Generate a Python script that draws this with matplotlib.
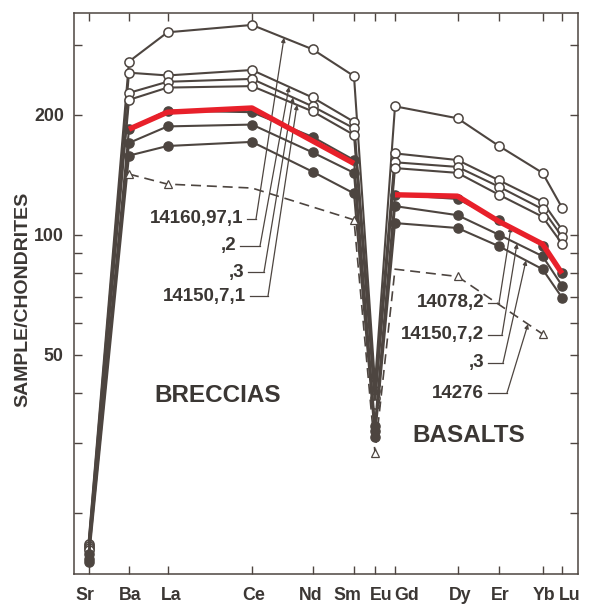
import numpy as np
import matplotlib
matplotlib.use("Agg")
import matplotlib.pyplot as plt
from matplotlib.transforms import ScaledTranslation

# ---------------- data ----------------
elements = ["Sr", "Ba", "La", "Ce", "Nd", "Sm", "Eu", "Gd", "Dy", "Er", "Yb", "Lu"]
element_x = [0, 40.5, 79, 163.5, 224, 265.5, 286.5, 306.5, 369, 410.5, 454, 473.5]

# Breccias (open circles)
brec_14160_97_1 = [16.8, 272, 322, 336, 292, 250, 42.3, 210, 196, 167, 143, 117]
brec_14160_97_2 = [16.6, 255, 251, 259, 221, 192, 40.6, 160, 154, 137, 121, 103]
brec_14160_97_3 = [16.4, 227, 242, 246, 210, 185, 39.0, 152, 148, 132, 116, 99]
brec_14150_7_1 = [16.2, 218, 234, 236, 204, 178, 37.7, 147, 143, 126, 111, 95]

# Basalts (filled circles)
bas_14078_2 = [15.8, 184, 205, 203, 176, 154, 33.2, 126, 123, 109, 94, 80]
bas_14150_7_2 = [15.4, 170, 187, 189, 161, 143, 32.2, 118, 112, 100, 88.4, 74.6]
bas_14150_7_3 = [15.1, 158, 167, 171, 144, 127, 31.1, 107, 104, 93.6, 82, 69.6]

# 14276 (open triangles, dashed)
tri_elements = ["Ba", "La", "Ce", "Sm", "Eu", "Gd", "Dy", "Yb"]
tri_14276 = [142, 134, 131, 109, 28.4, 82, 78.6, 56.4]
tri_marked = [True, True, False, True, True, False, True, True]

# red highlight overlay
red_left_el = ["Ba", "La", "Ce", "Sm"]
red_left_val = [184, 203, 208, 151]
red_right_el = ["Gd", "Dy", "Er", "Yb", "Lu"]
red_right_val = [126, 125, 108, 94.8, 80]

ytick_vals = [20, 30, 40, 50, 60, 70, 80, 90, 100, 200, 300]
ytick_labels = ["", "", "", "50", "", "", "", "", "100", "200", ""]

# ---------------- style ----------------
INK = "#4d4540"
TXT = "#3b3734"
RED = "#e8202a"
FONT = "Liberation Sans"
plt.rcParams["font.family"] = [FONT, "DejaVu Sans"]

W, H = 597, 609
fig = plt.figure(figsize=(W / 100, H / 100), dpi=100)
fig.patch.set_facecolor("white")
L, R, T, B = 73.5, 577.5, 13, 574
ax = fig.add_axes([L / W, 1 - B / H, (R - L) / W, (B - T) / H])
ax.set_yscale("log")
ax.set_xlim(-15, 489)
ax.set_ylim(14.1, 360)

xpos = dict(zip(elements, element_x))
X = np.array(element_x)

open_series = [brec_14160_97_1, brec_14160_97_2, brec_14160_97_3, brec_14150_7_1]
filled_series = [bas_14078_2, bas_14150_7_2, bas_14150_7_3]

for s in open_series:
    ax.plot(X, s, color=INK, lw=1.5, marker="o", ms=6.6, mfc="white",
            mec=INK, mew=1.1, zorder=3)
for s in filled_series:
    ax.plot(X, s, color=INK, lw=1.5, marker="o", ms=6.6, mfc=INK,
            mec=INK, mew=1.0, zorder=3)

tx = [xpos[e] for e in tri_elements]
mk = [i for i, m in enumerate(tri_marked) if m]
ax.plot(tx, tri_14276, color=INK, lw=1.2, dashes=(6, 3.5), marker="^",
        markevery=mk, ms=5.8, mfc="white", mec=INK, mew=0.9, zorder=3)

ax.plot([xpos[e] for e in red_left_el], red_left_val, color=RED, lw=3.9,
        solid_capstyle="butt", zorder=5)
ax.plot([xpos[e] for e in red_right_el], red_right_val, color=RED, lw=3.9,
        solid_capstyle="butt", zorder=5)

# ---------------- axes styling ----------------
for sp in ax.spines.values():
    sp.set_color(INK)
    sp.set_linewidth(1.1)
ax.set_xticks(element_x)
ax.set_xticklabels(elements)
ax.set_yticks(ytick_vals)
ax.set_yticklabels(ytick_labels)
ax.minorticks_off()
ax.tick_params(axis="both", which="both", direction="in", length=6, width=1.0,
               color=INK, top=True, right=True, labelcolor=TXT)
ax.tick_params(axis="x", pad=9)
ax.tick_params(axis="y", pad=7)
for lab in ax.get_xticklabels() + ax.get_yticklabels():
    lab.set_fontweight("bold")
    lab.set_fontsize(12.8)
label_shift = [-3.5, 1, 3.5, 2, -1.5, -7, 6, 12, 2.5, 1, 1.5, 8]
for lab, dx in zip(ax.get_xticklabels(), label_shift):
    lab.set_transform(lab.get_transform() + ScaledTranslation(dx / 100, 0, fig.dpi_scale_trans))

fig.text(23 / W, 1 - 299 / H, "SAMPLE/CHONDRITES", rotation=90, ha="center",
         va="center", fontsize=14, fontweight="bold", color=TXT)

fig.text(218 / W, 1 - 396 / H, "BRECCIAS", ha="center", va="center",
         fontsize=17.5, fontweight="bold", color=TXT)
fig.text(469 / W, 1 - 435 / H, "BASALTS", ha="center", va="center",
         fontsize=17.5, fontweight="bold", color=TXT)

# ---------------- labels with leader lines ----------------
inv = ax.transData.inverted()


def pix(px, py):
    return inv.transform((px, H - py))


def on_series(xs, ys, xq):
    return 10 ** np.interp(xq, xs, np.log10(ys))


labels = [
    ("14160,97,1", 243, 219, 256, element_x, brec_14160_97_1, 284),
    (",2", 236, 246, 260, element_x, brec_14160_97_2, 289),
    (",3", 244, 272, 264, element_x, brec_14160_97_3, 293),
    ("14150,7,1", 246, 296, 268, element_x, brec_14150_7_1, 297),
    ("14078,2", 484, 303, 499, element_x, bas_14078_2, 511),
    ("14150,7,2", 484, 335, 502, element_x, bas_14150_7_2, 517),
    (",3", 484, 363, 503, element_x, bas_14150_7_3, 526),
    ("14276", 484, 393, 507, tx, tri_14276, 528),
]
for text, rx, ry, sx, xs, ys, tpx in labels:
    fig.text(rx / W, 1 - ry / H, text, ha="right", va="center", fontsize=13.5,
             fontweight="bold", color=TXT)
    x0, y0 = pix(rx + 4, ry)
    x1, y1 = pix(sx, ry)
    xt = pix(tpx, 0)[0]
    yt = on_series(xs, ys, xt)
    ax.plot([x0, x1], [y0, y1], color=INK, lw=0.9, clip_on=False, zorder=2)
    ax.annotate("", xy=(xt, yt), xytext=(x1, y1),
                arrowprops=dict(arrowstyle="-|>", lw=0.9, color=INK,
                                mutation_scale=6, shrinkA=0, shrinkB=0),
                zorder=2)

fig.savefig("out.png", dpi=100, facecolor="white")
